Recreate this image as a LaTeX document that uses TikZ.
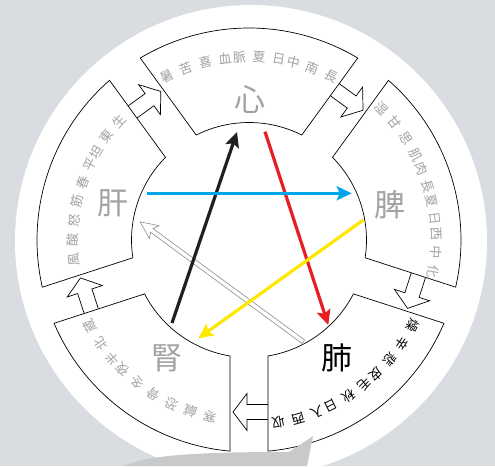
\documentclass[tikz,border=0pt]{standalone}
\usepackage{fontspec}
\newfontfamily\cjk{Noto Sans CJK JP}
\usetikzlibrary{arrows.meta}
\definecolor{bg}{HTML}{D9DCE1}
\definecolor{txtgray}{HTML}{A3A3A3}
\definecolor{bubble}{HTML}{C8C9CB}
\definecolor{zred}{HTML}{E81E25}
\definecolor{zblue}{HTML}{00A6E8}
\definecolor{zyellow}{HTML}{FFE800}
\definecolor{zblack}{HTML}{231F20}
\tikzset{
  seg/.style={draw=black, fill=white, line width=0.7pt},
  blockarrow/.style={draw=black, fill=white, line width=0.7pt},
  hollowarrow/.style={draw=black!45, fill=white, line width=0.6pt},
  bigchar/.style={font=\cjk\fontsize{31}{31}\selectfont, text=txtgray, inner sep=0pt},
  smallchar/.style={font=\cjk\fontsize{13}{13}\selectfont, text=txtgray, inner sep=0pt},
  flow/.style={line width=3.2pt, -{Stealth[length=15pt,width=14pt,inset=3pt]}},
}
\begin{document}
\begin{tikzpicture}[x=1pt,y=1pt]
\useasboundingbox (-249,-226) rectangle (246,240);
\fill[bg] (-249,-226) rectangle (246,240);
\fill[white] (2,-1) circle (236);
\coordinate (O) at (0,0);
% block arrows in the gaps
\foreach \g in {126,54,-18,-90,198} {
  \begin{scope}[shift={(\g:172)}, rotate=\g-90]
    \path[blockarrow] (-21,-7.5) -- (2,-7.5) -- (2,-18.5) -- (16,0) -- (2,18.5) -- (2,7.5) -- (-21,7.5) -- cycle;
  \end{scope}
}
% ring segments
\foreach \c in {90,18,-54,-126,162} {
  \path[seg] ({\c+30.86}:212) -- ({\c+26.7}:117.5)
     arc[start angle=\c+26.7, end angle=\c-26.7, radius=117.5]
     -- ({\c-30.86}:212)
     arc[start angle=\c-30.86, end angle=\c+30.86, radius=212] -- cycle;
}
% big characters
\node[bigchar] (xin) at (1,140) {心};
\node[bigchar] (pi) at (141,35) {脾};
\node[bigchar, text=black] (fei) at (88,-118) {肺};
\node[bigchar] (shen) at (-82,-118) {腎};
\node[bigchar] (gan) at (-136,37) {肝};
% arc texts
\foreach \a/\ch [count=\i] in {116.6/暑,110.2/苦,103.8/喜,97.6/血,93.0/脈,86.8/夏,80.6/日,76.0/中,69.8/南,63.4/長}
  \node[smallchar, rotate=\a-90] (xa\i) at (\a:183) {\ch};
\foreach \a/\ch [count=\i] in {44.8/湿,38.8/甘,32.8/思,27.0/肌,22.4/肉,16.8/長,12.2/夏,6.6/日,2.0/西,-3.8/中,-9.8/化}
  \node[smallchar, rotate=\a-90] (pa\i) at (\a:187) {\ch};
\foreach \a/\ch [count=\i] in {-27.7/燥,-34.1/辛,-40.5/悲,-46.7/皮,-51.3/毛,-57.5/秋,-63.7/日,-68.3/入,-74.5/西,-80.9/収}
  \node[smallchar, text=black, rotate=\a-90] (fa\i) at (\a:185) {\ch};
\foreach \a/\ch [count=\i] in {257.5/寒,251.1/鹹,244.7/恐,238.3/骨,231.9/冬,225.7/夜,221.1/半,214.9/北,208.5/蔵}
  \node[smallchar, rotate=\a-90] (sa\i) at (\a:181) {\ch};
\foreach \a/\ch [count=\i] in {186.5/風,180.1/酸,173.7/怒,167.3/筋,160.9/春,154.7/平,150.1/坦,143.9/東,137.5/生}
  \node[smallchar, rotate=\a-90] (ga\i) at (\a:176) {\ch};
% inner arrows
\coordinate (hw1) at (54.3,-101.7);
\coordinate (bk1) at (-77,-83);   \coordinate (bk2) at (-12,108);
\coordinate (rd1) at (16,108.3);  \coordinate (rd2) at (79.3,-85);
\coordinate (yl1) at (114.3,20);  \coordinate (yl2) at (-50.7,-98.3);
\coordinate (bl1) at (-102.3,46.7); \coordinate (bl2) at (102.7,46.7);
\begin{scope}[shift={(hw1)}, rotate=143.7]
  \path[hollowarrow] (0,-2.2) -- (188,-2.2) -- (185,-8) -- (202.6,0) -- (185,8) -- (188,2.2) -- (0,2.2) -- cycle;
\end{scope}
\draw[flow, zblack] (bk1) -- (bk2);
\draw[flow, zred] (rd1) -- (rd2);
\draw[flow, zyellow] (yl1) -- (yl2);
\draw[flow, zblue] (bl1) -- (bl2);
% bubble at the bottom
\fill[bubble] (-125,-226) .. controls (-100,-214) and (-40,-212) .. (40,-212) -- (64,-196) -- (58,-226) -- cycle;
\end{tikzpicture}
\end{document}
